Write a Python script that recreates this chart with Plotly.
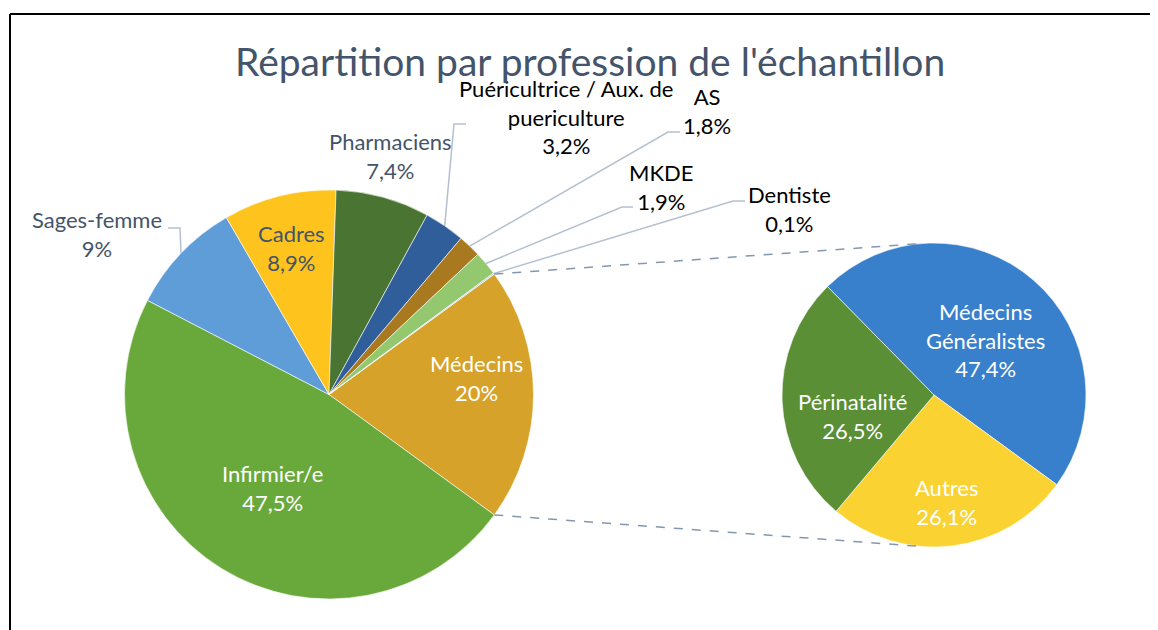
import math
import plotly.graph_objects as go

# page is rendered with an 8px body margin -> figure is sized/offset accordingly
OFF = 8
W, H = 1158 - OFF, 630 - OFF

# ---- data ----
main_labels = ["Médecins", "Infirmier/e", "Sages-femme", "Cadres", "Pharmaciens",
               "Puéricultrice / Aux. de puericulture", "AS", "MKDE", "Dentiste"]
main_values = [20.0, 47.5, 9.0, 8.9, 7.4, 3.2, 1.8, 1.9, 0.1]
main_text = ["20%", "47,5%", "9%", "8,9%", "7,4%", "3,2%", "1,8%", "1,9%", "0,1%"]
main_colors = ["#D6A22A", "#69A93B", "#5E9DD8", "#FFC31E", "#4A7431",
               "#2F5E9B", "#A8791F", "#93C86F", "#A9CBEA"]

sub_labels = ["Médecins Généralistes", "Autres", "Périnatalité"]
sub_values = [47.4, 26.1, 26.5]
sub_text = ["47,4%", "26,1%", "26,5%"]
sub_colors = ["#3880CB", "#FAD231", "#5A8F36"]

title = "Répartition par profession de l'échantillon"

# ---- geometry (page pixels) ----
MC = (329, 394.5); MR = 204.5
SC = (934, 395); SR = 152
main_rot = 90 - main_values[0] / sum(main_values) * 360 / 2
sub_rot = 315.5


def px(x):
    return (x - OFF) / W


def py(y):
    return 1 - (y - OFF) / H


def dom(c, r):
    return dict(x=[px(c[0] - r), px(c[0] + r)], y=[py(c[1] + r), py(c[1] - r)])


def slice_angles(values, rot):
    tot = sum(values)
    out = []
    a = rot
    for v in values:
        b = a + v / tot * 360
        out.append((a, b))
        a = b
    return out


def edge(c, r, ang):
    t = math.radians(ang)
    return (c[0] + r * math.sin(t), c[1] - r * math.cos(t))


fig = go.Figure()
fig.add_trace(go.Pie(
    labels=main_labels, values=main_values, sort=False, direction="clockwise",
    rotation=main_rot, marker=dict(colors=main_colors, line=dict(color="white", width=0.6)),
    textinfo="none", hoverinfo="skip", domain=dom(MC, MR), showlegend=False))
fig.add_trace(go.Pie(
    labels=sub_labels, values=sub_values, sort=False, direction="clockwise",
    rotation=sub_rot, marker=dict(colors=sub_colors, line=dict(color="white", width=0.6)),
    textinfo="none", hoverinfo="skip", domain=dom(SC, SR), showlegend=False))

FONT = "Lato"
DARK = "#44546A"
anns = []


def ann(x, y, text, color, size=22):
    anns.append(dict(x=px(x), y=py(y), xref="paper", yref="paper", text=text,
                     showarrow=False, xanchor="center", yanchor="middle",
                     font=dict(family=FONT, size=size, color=color)))


ma = slice_angles(main_values, main_rot)
sa = slice_angles(sub_values, sub_rot)

# main pie labels: (centre x, centre y, colour)
main_pos = [(476, 378, "white"), (272, 488, "white"), (97, 234, DARK), (291, 248, DARK),
            (390, 156, DARK), (566, 117, "black"), (707, 111, "black"),
            (661, 187, "black"), (789, 209, "black")]
main_names = ["Médecins", "Infirmier/e", "Sages-femme", "Cadres", "Pharmaciens",
              "Puéricultrice / Aux. de<br>puericulture", "AS", "MKDE", "Dentiste"]
for name, t, (x, y, col) in zip(main_names, main_text, main_pos):
    ann(x, y, name + "<br>" + t, col)

sub_pos = [(985, 340, "white"), (946, 502, "white"), (852, 416, "white")]
sub_names = ["Médecins<br>Généralistes", "Autres", "Périnatalité"]
for name, t, (x, y, col) in zip(sub_names, sub_text, sub_pos):
    ann(x, y, name + "<br>" + t, col)

anns.append(dict(x=px(590), y=py(61), xref="paper", yref="paper", text=title,
                 showarrow=False, xanchor="center", yanchor="middle",
                 font=dict(family=FONT, size=39, color=DARK)))

shapes = []
# leader lines: label stub start, stub end -> slice mid edge
leaders = {2: ((168, 228), (180, 228)), 5: ((466, 124), (454, 124)),
           6: ((680, 132), (668, 132)), 7: ((633, 207), (622, 207)),
           8: ((745, 201), (733, 201))}
for i, (p0, p1) in leaders.items():
    a0, a1 = ma[i]
    e = edge(MC, MR, (a0 + a1) / 2)
    path = f"M {px(p0[0])},{py(p0[1])} L {px(p1[0])},{py(p1[1])} L {px(e[0])},{py(e[1])}"
    shapes.append(dict(type="path", path=path, xref="paper", yref="paper",
                       line=dict(color="#B4C0D0", width=1.5)))

# dashed connectors from "Médecins" slice to the secondary pie
p_top = edge(MC, MR, ma[0][0])
p_bot = edge(MC, MR, ma[0][1])
s_top = edge(SC, SR, -5)
s_bot = edge(SC, SR, 185)
for a, b in ((p_top, s_top), (p_bot, s_bot)):
    shapes.append(dict(type="line", xref="paper", yref="paper",
                       x0=px(a[0]), y0=py(a[1]), x1=px(b[0]), y1=py(b[1]),
                       line=dict(color="#8497B0", width=1.5, dash="dash")))

# frame
shapes.append(dict(type="line", xref="paper", yref="paper", x0=px(10), y0=py(14),
                   x1=px(1170), y1=py(14), line=dict(color="black", width=2)))
shapes.append(dict(type="line", xref="paper", yref="paper", x0=px(10), y0=py(14),
                   x1=px(10), y1=py(640), line=dict(color="black", width=2)))

fig.update_layout(width=W, height=H, margin=dict(l=0, r=0, t=0, b=0),
                  paper_bgcolor="white", plot_bgcolor="white",
                  annotations=anns, shapes=shapes, showlegend=False)
fig.write_html("out.html")
